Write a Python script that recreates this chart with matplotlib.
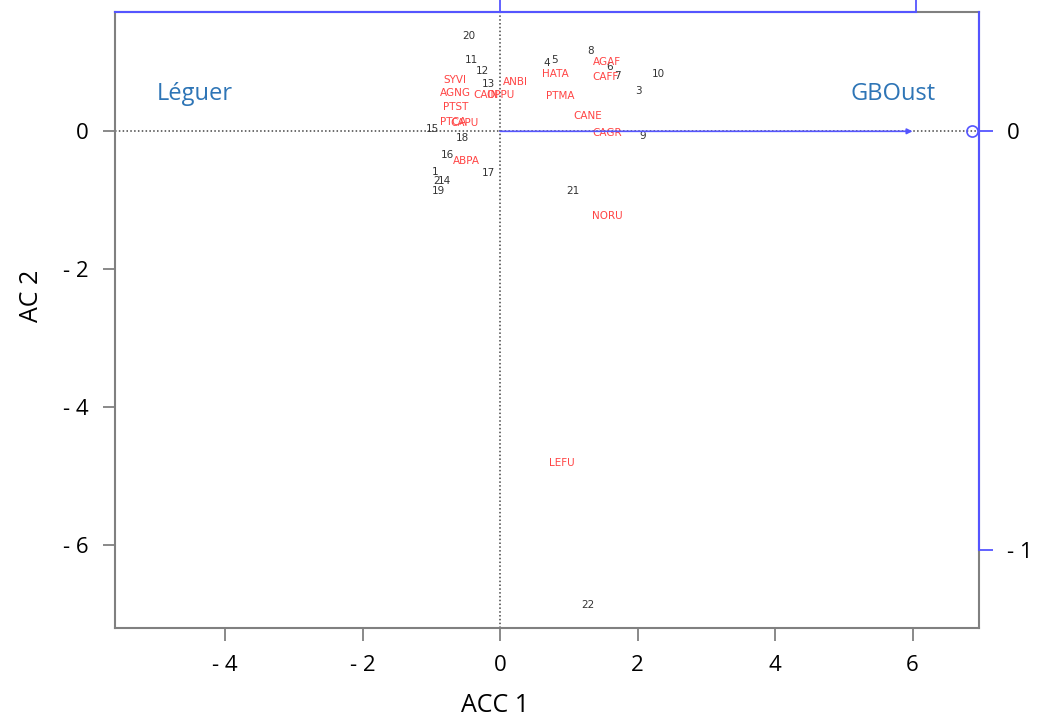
import matplotlib.pyplot as plt
from matplotlib import font_manager

# site scores (ACC 1, AC 2)
sites = ["1", "2", "3", "4", "5", "6", "7", "8", "9", "10", "11",
         "12", "13", "14", "15", "16", "17", "18", "19", "20", "21", "22"]
site_x = [-0.95, -0.92, 2.02, 0.68, 0.79, 1.60, 1.70, 1.32, 2.08, 2.31, -0.42,
          -0.26, -0.17, -0.81, -0.99, -0.76, -0.17, -0.54, -0.89, -0.45, 1.06, 1.28]
site_y = [-0.59, -0.72, 0.59, 0.99, 1.04, 0.93, 0.80, 1.17, -0.07, 0.83, 1.04,
          0.87, 0.68, -0.72, 0.04, -0.35, -0.61, -0.09, -0.86, 1.38, -0.86, -6.87]

# species scores
species = ["SYVI", "AGNG", "PTST", "PTCA", "CAPU", "CAIN", "OPPU", "ANBI", "HATA",
           "PTMA", "AGAF", "CAFF", "CANE", "CAGR", "NORU", "LEFU", "ABPA"]
sp_x = [-0.65, -0.65, -0.65, -0.68, -0.52, -0.20, 0.00, 0.23, 0.81,
        0.87, 1.56, 1.53, 1.28, 1.56, 1.56, 0.90, -0.49]
sp_y = [0.74, 0.55, 0.35, 0.13, 0.12, 0.52, 0.53, 0.71, 0.83,
        0.51, 1.00, 0.78, 0.22, -0.03, -1.23, -4.80, -0.43]

# environmental factor arrow (GBOust) and its centroid
arrow_x, arrow_y = 6.0, 0.0
centroid_x, centroid_y = 6.87, 0.0

xticks = [-4, -2, 0, 2, 4, 6]
yticks = [-6, -4, -2, 0]

installed = {f.name for f in font_manager.fontManager.ttflist}
lab_font = "Liberation Sans Narrow" if "Liberation Sans Narrow" in installed else "Open Sans"

fig = plt.figure(figsize=(10.4, 7.22), dpi=100)
ax = fig.add_axes([0.1106, 0.130, 0.8308, 0.853])
ax.set_xlim(-5.6, 6.967)
ax.set_ylim(-7.2, 1.725)

grey = "#808080"
blue = "#5555ff"
for s in ax.spines.values():
    s.set_color(grey)
    s.set_linewidth(1.5)

ax.axhline(0, color="#444444", lw=1.1, ls=(0, (1, 1.5)), zorder=1)
ax.axvline(0, color="#444444", lw=1.1, ls=(0, (1, 1.5)), zorder=1)

ax.set_xticks(xticks)
ax.set_xticklabels([f"- {abs(v)}" if v < 0 else str(v) for v in xticks],
                   fontsize=16, family=lab_font)
ax.set_yticks(yticks)
ax.set_yticklabels([f"- {abs(v)}" if v < 0 else str(v) for v in yticks],
                   fontsize=16, family=lab_font)
ax.tick_params(length=9, width=1.3, color=grey, pad=10)

ax.set_xlabel("ACC 1", fontsize=18, family=lab_font)
ax.set_ylabel("AC 2", fontsize=18, family=lab_font)
ax.xaxis.set_label_coords(0.44, -0.105)
ax.yaxis.set_label_coords(-0.082, 0.54)

# sites and species
for lab, x, y in zip(sites, site_x, site_y):
    ax.text(x, y, lab, fontsize=7.5, color="#333333", ha="center", va="center", zorder=3)
for lab, x, y in zip(species, sp_x, sp_y):
    ax.text(x, y, lab, fontsize=7.5, color="#ff4444", ha="center", va="center", zorder=3)

# biplot arrow and centroid
ax.annotate("", xy=(arrow_x, arrow_y), xytext=(0, 0),
            arrowprops=dict(arrowstyle="-|>", color=blue, lw=1.2,
                            mutation_scale=8, shrinkA=0, shrinkB=0), zorder=4)
ax.plot([centroid_x], [centroid_y], "o", mfc="none", mec=blue, ms=8, mew=1.2, zorder=4)

ax.text(-5.0, 0.45, "Léguer", fontsize=17, color="#2e75b6", family=lab_font)
ax.text(5.1, 0.45, "GBOust", fontsize=17, color="#2e75b6", family=lab_font)

# secondary axes for the arrow scale
ax_r = ax.twinx()
ax_r.set_ylim(-1.186, 0.284)
ax_r.set_yticks([-1, 0])
ax_r.set_yticklabels(["- 1", "0"], fontsize=16, family=lab_font)
ax_r.tick_params(axis="y", length=10, width=1.3, color=blue, pad=10)
for k in ["left", "top", "bottom"]:
    ax_r.spines[k].set_visible(False)
ax_r.spines["right"].set_color(blue)
ax_r.spines["right"].set_linewidth(1.5)
ax_r.spines["right"].set_bounds(-1, 0.284)

ax_t = ax.twiny()
ax_t.set_xlim(-0.925, 1.151)
ax_t.set_xticks([0, 1])
ax_t.set_xticklabels([])
ax_t.tick_params(axis="x", length=14, width=1.3, color=blue)
for k in ["left", "right", "bottom"]:
    ax_t.spines[k].set_visible(False)
ax_t.spines["top"].set_color(blue)
ax_t.spines["top"].set_linewidth(1.5)
ax_t.spines["top"].set_bounds(-0.925, 1)

fig.savefig("out.png", dpi=100)
